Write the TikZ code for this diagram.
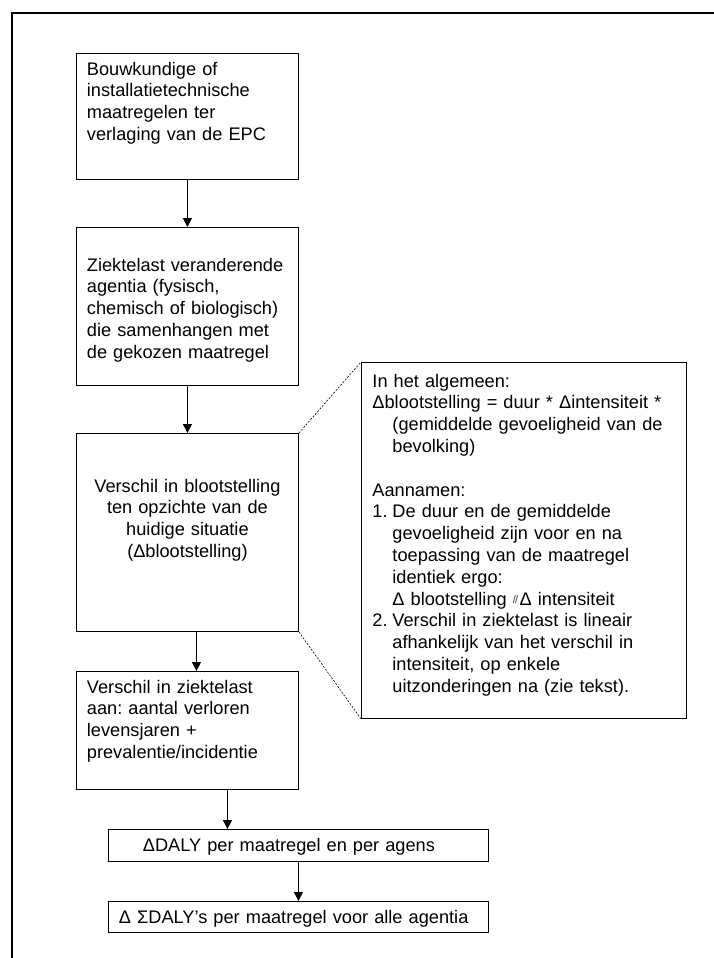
\documentclass[tikz,border=0pt]{standalone}
\usepackage{fontspec}
\setmainfont{Liberation Sans}
\usetikzlibrary{arrows.meta}

\tikzset{
  kader/.style={draw, line width=0.9pt, anchor=north west, inner xsep=10.5pt, inner ysep=0pt,
    align=left, font=\fontsize{18.2}{21.8}\selectfont\frenchspacing},
  pijl/.style={draw, line width=0.9pt, -{Triangle[length=9pt,width=9pt]}},
  stippel/.style={draw, line width=0.6pt, dash pattern=on 2pt off 1.5pt},
}
\newcommand\dubbelstreep{\raisebox{2pt}{\color{darkgray}\fontsize{11}{11}\selectfont/\kern-0.8pt/}}

\begin{document}
\begin{tikzpicture}[x=1pt,y=-1pt]
\useasboundingbox (0,0) rectangle (714,958);
% rand
\draw[line width=2pt] (714,13) -- (12,13) -- (12,958);

% linker kolom
\node[kader, text width=201pt, text height=21.7pt, text depth=104.3pt] (bouw) at (76,53)
  {Bouwkundige of\\installatietechnische\\maatregelen ter\\verlaging van de EPC};
\node[kader, text width=201pt, text height=43.7pt, text depth=114.3pt] (agentia) at (76,227)
  {Ziektelast veranderende\\agentia (fysisch,\\chemisch of biologisch)\\die samenhangen met\\de gekozen maatregel};
\node[kader, align=center, text width=201pt, text height=58.7pt, text depth=139.3pt] (verschil) at (76,433)
  {Verschil in blootstelling\\ten opzichte van de\\huidige situatie\\(Δblootstelling)};
\node[kader, text width=201pt, text height=21.7pt, text depth=96.3pt] (ziektelast) at (76,671)
  {Verschil in ziektelast\\aan: aantal verloren\\levensjaren +\\prevalentie/incidentie};
\node[kader, text width=359pt, text height=21.7pt, text depth=10.3pt] (daly) at (108,829)
  {\hspace*{24pt}ΔDALY per maatregel en per agens};
\node[kader, text width=359pt, text height=21.7pt, text depth=9.3pt] (som) at (108,901)
  {Δ ΣDALY’s per maatregel voor alle agentia};

% toelichting
\node[kader, inner xsep=11pt, text width=303pt, text height=24.7pt, text depth=331.3pt] (algemeen) at (361,362)
  {In het algemeen:\\
   Δblootstelling = duur * Δintensiteit *\\
   \hspace*{20pt}(gemiddelde gevoeligheid van de\\
   \hspace*{20pt}bevolking)\\[21.8pt]
   Aannamen:\\
   \makebox[20pt][l]{1.}De duur en de gemiddelde\\
   \hspace*{20pt}gevoeligheid zijn voor en na\\
   \hspace*{20pt}toepassing van de maatregel\\
   \hspace*{20pt}identiek ergo:\\
   \hspace*{20pt}Δ blootstelling \dubbelstreep\kern1.5ptΔ intensiteit\\
   \makebox[20pt][l]{2.}Verschil in ziektelast is lineair\\
   \hspace*{20pt}afhankelijk van het verschil in\\
   \hspace*{20pt}intensiteit, op enkele\\
   \hspace*{20pt}uitzonderingen na (zie tekst).};

\path[stippel] (verschil.north east) -- (algemeen.north west);
\path[stippel] (verschil.south east) -- (algemeen.south west);

% pijlen
\path[pijl] (bouw.south) -- (agentia.north);
\path[pijl] (agentia.south) -- (verschil.north);
\path[pijl] ([xshift=9pt]verschil.south) -- ([xshift=9pt]verschil.south |- ziektelast.north);
\path[pijl] ([xshift=40pt]ziektelast.south) -- ([xshift=40pt]ziektelast.south |- daly.north);
\path[pijl] (daly.south) -- (som.north);
\end{tikzpicture}
\end{document}
